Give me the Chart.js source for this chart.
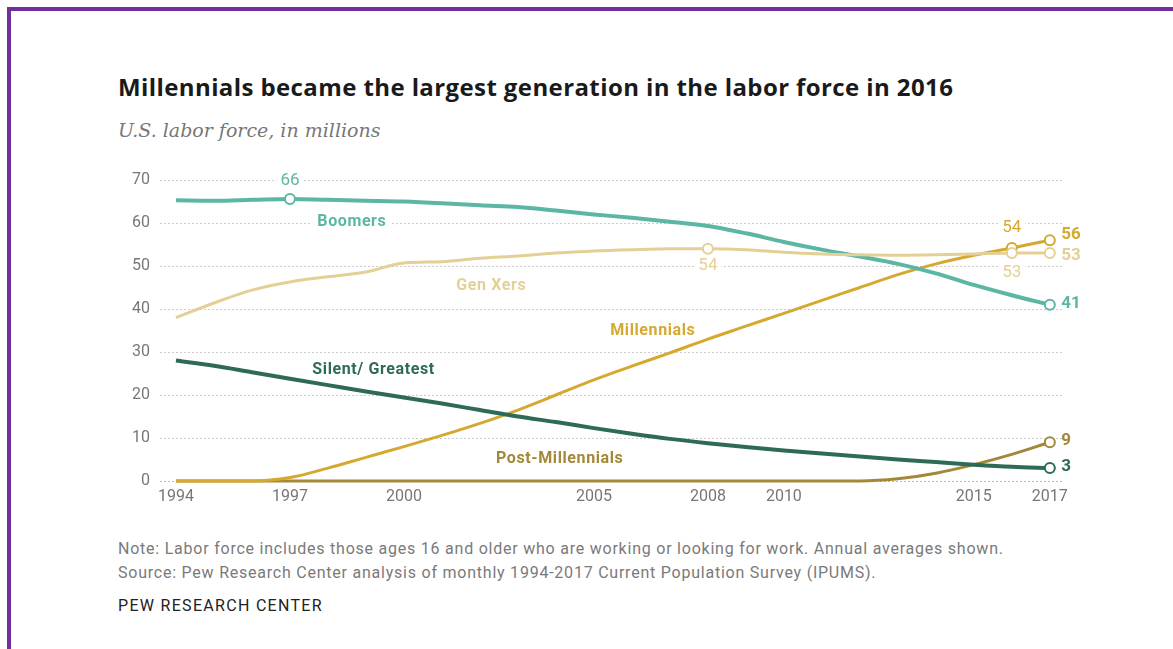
<!DOCTYPE html>
<html>
<head>
<meta charset="utf-8">
<script src="https://cdn.jsdelivr.net/npm/chart.js@4.4.1/dist/chart.umd.min.js"></script>
<style>
  html, body { margin:0; padding:0; background:#fff; width:1173px; height:649px; overflow:hidden; }
  .frame { position:absolute; left:7px; top:7px; width:1200px; height:700px; border-top:4px solid #7030a0; border-left:4px solid #7030a0; }
  .title { position:absolute; left:118px; top:70px; font-family:"Open Sans","Roboto",sans-serif; font-weight:700; font-size:24px; color:#1a1a1a; white-space:nowrap; letter-spacing:0.4px; }
  .subtitle { position:absolute; left:118px; top:119px; font-family:"DejaVu Serif",serif; font-style:italic; font-size:19px; color:#777; white-space:nowrap; }
  .note { position:absolute; left:118px; font-family:"Roboto","Liberation Sans",sans-serif; font-size:16px; color:#7a7a7a; white-space:nowrap; letter-spacing:0.77px; }
  .pew { position:absolute; left:118px; top:596px; font-family:"Roboto","Liberation Sans",sans-serif; font-size:16px; color:#222; white-space:nowrap; letter-spacing:1.3px; }
  #wrap { position:absolute; left:0; top:0; width:1173px; height:649px; }
</style>
</head>
<body>
<div class="frame"></div>
<div class="title">Millennials became the largest generation in the labor force in 2016</div>
<div class="subtitle">U.S. labor force, in millions</div>
<div class="note" style="top:539px;">Note: Labor force includes those ages 16 and older who are working or looking for work. Annual averages shown.</div>
<div class="note" style="top:563px;">Source: Pew Research Center analysis of monthly 1994-2017 Current Population Survey (IPUMS).</div>
<div class="pew">PEW RESEARCH CENTER</div>
<div id="wrap"><canvas id="c"></canvas></div>
<script>
const years = [1994,1995,1996,1997,1998,1999,2000,2001,2002,2003,2004,2005,2006,2007,2008,2009,2010,2011,2012,2013,2014,2015,2016,2017];
const boomers = [65.3,65.2,65.4,65.6,65.4,65.2,65.0,64.6,64.1,63.7,62.9,62.0,61.2,60.3,59.3,57.6,55.6,53.8,52.2,50.5,48.3,45.6,43.2,41];
const genXers = [38,41.4,44.4,46.3,47.5,48.6,50.7,51.0,51.8,52.3,53.0,53.5,53.8,54.0,54.0,53.8,53.2,52.8,52.6,52.5,52.6,52.8,53.0,53];
const millennials = [0,0,0,0.8,3.0,5.5,8.0,10.6,13.4,16.5,20.0,23.5,26.7,29.8,33.0,36.0,39.0,42.0,45.0,48.0,50.5,52.5,54.2,56];
const silent = [28,26.8,25.3,23.8,22.3,20.8,19.4,18.0,16.5,15.0,13.7,12.3,11.0,9.8,8.8,7.9,7.1,6.4,5.7,5.0,4.4,3.8,3.3,3];
const postMillennials = [0,0,0,0,0,0,0,0,0,0,0,0,0,0,0,0,0,0,0,0.5,1.8,3.8,6.2,9];
const yTicks = [0,10,20,30,40,50,60,70];
const xTicks = [1994,1997,2000,2005,2008,2010,2015,2017];

const colors = { boomers:'#5cb6a4', genx:'#e4d095', mill:'#d5a92f', silent:'#2d6a5a', post:'#a28838' };

function markerRadii(markYears) { return years.map(y => markYears.includes(y) ? 5 : 0); }

function ds(label, data, color, width, markYears) {
  return {
    label, data: years.map((y,i)=>({x:y, y:data[i]})),
    borderColor: color, backgroundColor:'#fff', borderWidth: width,
    pointRadius: markerRadii(markYears), pointBorderWidth: 2, pointBorderColor: color, pointBackgroundColor:'#fff',
    cubicInterpolationMode:'monotone', fill:false, clip:false
  };
}

const nameLabels = [
  ['Boomers', 1998.63, 60.2, colors.boomers],
  ['Gen Xers', 2002.3, 45.3, colors.genx],
  ['Millennials', 2006.55, 34.9, colors.mill],
  ['Silent/ Greatest', 1999.2, 25.8, colors.silent],
  ['Post-Millennials', 2004.1, 5.1, colors.post]
];
const valueLabels = [
  ['66', 1997, 69.8, colors.boomers, 'center', false],
  ['54', 2008, 50.0, colors.genx, 'center', false],
  ['54', 2016, 58.8, colors.mill, 'center', false],
  ['53', 2016, 48.4, colors.genx, 'center', false],
  ['56', 2017.3, 57.2, colors.mill, 'left', true],
  ['53', 2017.3, 52.4, colors.genx, 'left', true],
  ['41', 2017.3, 41.2, colors.boomers, 'left', true],
  ['9', 2017.3, 9.3, colors.post, 'left', true],
  ['3', 2017.3, 3.2, colors.silent, 'left', true]
];

const labelPlugin = {
  id:'labels',
  beforeDatasetsDraw(chart) {
    const {ctx, scales:{x,y}} = chart;
    ctx.save();
    ctx.textBaseline = 'middle';
    nameLabels.forEach(([t,xv,yv,col])=>{
      ctx.font = 'bold 16px "Roboto", "Liberation Sans", sans-serif';
      ctx.letterSpacing = '0.6px';
      const px = x.getPixelForValue(xv), py = y.getPixelForValue(yv);
      const w = ctx.measureText(t).width;
      ctx.fillStyle = '#fff';
      ctx.fillRect(px - w/2 - 5, py - 9, w + 10, 18);
      ctx.fillStyle = col; ctx.textAlign='center';
      ctx.fillText(t, px, py);
    });
    ctx.letterSpacing = '0px';
    valueLabels.forEach(([t,xv,yv,col,al,bold])=>{
      ctx.font = (bold ? 'bold ' : '') + '17px "Roboto", "Liberation Sans", sans-serif';
      const px = x.getPixelForValue(xv), py = y.getPixelForValue(yv);
      const w = ctx.measureText(t).width;
      ctx.fillStyle = '#fff';
      const left = al === 'center' ? px - w/2 : px;
      if (!bold) ctx.fillRect(left - 4, py - 8, w + 8, 16);
      ctx.fillStyle = col; ctx.textAlign = al;
      ctx.fillText(t, px, py);
    });
    ctx.restore();
  }
};

new Chart(document.getElementById('c'), {
  type:'line',
  data:{ datasets:[
    ds('Gen Xers', genXers, colors.genx, 3, [2008,2016,2017]),
    ds('Boomers', boomers, colors.boomers, 4, [1997,2017]),
    ds('Silent/ Greatest', silent, colors.silent, 4, [2017]),
    ds('Millennials', millennials, colors.mill, 3, [2016,2017]),
    ds('Post-Millennials', postMillennials, colors.post, 3, [2017])
  ]},
  options:{
    responsive:true, maintainAspectRatio:false, animation:false,
    layout:{ padding:{ left:100, right:111, top:180, bottom:138 } },
    plugins:{ legend:{display:false}, tooltip:{enabled:false}, title:{display:false} },
    scales:{
      x:{ type:'linear', min:1993.58, max:2017.32,
        afterBuildTicks(s){ s.ticks = xTicks.map(v=>({value:v})); },
        afterFit(s){ s.height = 30; },
        grid:{ display:false, drawTicks:false },
        border:{ display:false },
        ticks:{ color:'#777', font:{ size:16, family:'"Roboto","Liberation Sans",sans-serif' }, padding:6, autoSkip:false, maxRotation:0, callback:v=>String(v) }
      },
      y:{ min:0, max:70,
        afterBuildTicks(s){ s.ticks = yTicks.map(v=>({value:v})); },
        afterFit(s){ s.width = 60; },
        grid:{ drawTicks:false, color:(c)=> c.tick.value===0 ? '#bbbbbb' : '#cccccc', lineWidth:1 },
        border:{ display:false, dash:[2,2] },
        ticks:{ color:'#777', font:{ size:16, family:'"Roboto","Liberation Sans",sans-serif' }, padding:10 }
      }
    }
  },
  plugins:[labelPlugin]
});
</script>
</body>
</html>
